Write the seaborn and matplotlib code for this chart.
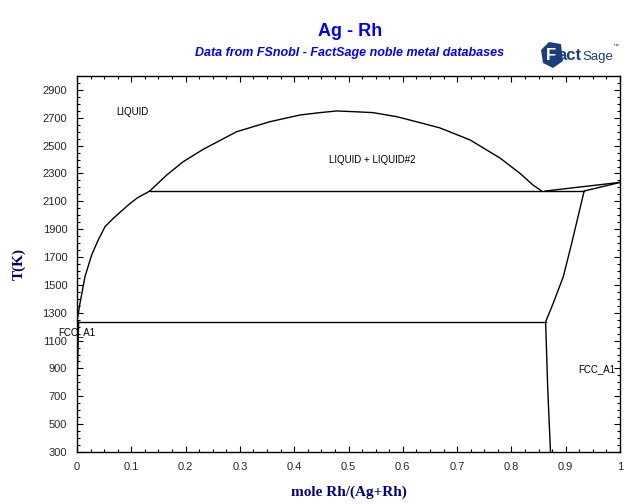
import numpy as np
import pandas as pd
import matplotlib
matplotlib.use("Agg")
import matplotlib.pyplot as plt
import seaborn as sns
from matplotlib.patches import Polygon
from matplotlib.ticker import MultipleLocator, FixedLocator

# ---------------- data ----------------
# Ag-side liquidus (x = mole Rh/(Ag+Rh), T in K)
liq_ag_x = [0.000, 0.0055, 0.0147, 0.027, 0.039, 0.0516, 0.0669, 0.0945, 0.110, 0.134]
liq_ag_T = [1234, 1368, 1559, 1715, 1822, 1918, 1978, 2074, 2122, 2174]

# Liquid miscibility gap dome
gap_x = [0.134, 0.1652, 0.1958, 0.2326, 0.2941, 0.3554, 0.4107, 0.4475, 0.4783,
         0.5083, 0.5451, 0.5888, 0.6317, 0.6685, 0.7238, 0.779, 0.8158, 0.8398, 0.8558]
gap_T = [2174, 2289, 2385, 2474, 2600, 2672, 2720, 2737, 2749,
         2744, 2737, 2708, 2665, 2627, 2541, 2411, 2301, 2217, 2174]

# Monotectic and peritectic horizontal lines
mono_x = [0.134, 0.934]
mono_T = [2174, 2174]
peri_x = [0.000, 0.863]
peri_T = [1234, 1234]

# Rh-side liquidus and solidus above the monotectic
liq_rh_x = [0.862, 1.000]
liq_rh_T = [2174, 2236]
sol_rh_top_x = [0.934, 1.000]
sol_rh_top_T = [2174, 2236]

# Rh-side solidus between peritectic and monotectic
sol_rh_x = [0.934, 0.911, 0.8956, 0.877, 0.863]
sol_rh_T = [2174, 1799, 1559, 1368, 1234]

# Rh-side solvus
solv_rh_x = [0.863, 0.867, 0.872]
solv_rh_T = [1234, 745, 300]

# Ag-side solvus
solv_ag_x = [0.003, 0.001]
solv_ag_T = [1234, 900]

curves = {
    "liq_ag": (liq_ag_x, liq_ag_T),
    "gap": (gap_x, gap_T),
    "mono": (mono_x, mono_T),
    "peri": (peri_x, peri_T),
    "liq_rh": (liq_rh_x, liq_rh_T),
    "sol_rh_top": (sol_rh_top_x, sol_rh_top_T),
    "sol_rh": (sol_rh_x, sol_rh_T),
    "solv_rh": (solv_rh_x, solv_rh_T),
    "solv_ag": (solv_ag_x, solv_ag_T),
}

x_ticks = [0, 0.1, 0.2, 0.3, 0.4, 0.5, 0.6, 0.7, 0.8, 0.9, 1]
x_tick_labels = ["0", "0.1", "0.2", "0.3", "0.4", "0.5", "0.6", "0.7", "0.8", "0.9", "1"]
y_ticks = [300, 500, 700, 900, 1100, 1300, 1500, 1700, 1900, 2100, 2300, 2500, 2700, 2900]

# phase labels: (text, x, T, ha)
phase_labels = [
    ("LIQUID", 0.072, 2741, "left"),
    ("LIQUID + LIQUID#2", 0.543, 2397, "center"),
    ("FCC_A1", 0.0, 1162, "center"),
    ("FCC_A1", 0.958, 896, "center"),
]

rows = []
for name, (xs, ts) in curves.items():
    for i, (xv, tv) in enumerate(zip(xs, ts)):
        rows.append({"curve": name, "order": i, "x": xv, "T": tv})
df = pd.DataFrame(rows)

# ---------------- plotting ----------------
sns.set_style("white")
plt.rcParams["font.family"] = ["Liberation Sans", "DejaVu Sans"]

fig = plt.figure(figsize=(6.4, 5.04), dpi=100)
ax = fig.add_axes([77 / 640, 1 - 452 / 504, (620 - 77) / 640, (452 - 76) / 504])

sns.lineplot(data=df, x="x", y="T", units="curve", estimator=None, sort=False,
             color="black", linewidth=1.0, ax=ax, legend=False)

ax.set_xlim(0, 1)
ax.set_ylim(300, 3000)
ax.xaxis.set_major_locator(FixedLocator(x_ticks))
ax.set_xticklabels(x_tick_labels)
ax.xaxis.set_minor_locator(MultipleLocator(0.025))
ax.yaxis.set_major_locator(FixedLocator(y_ticks))
ax.set_yticklabels([str(v) for v in y_ticks])
ax.yaxis.set_minor_locator(MultipleLocator(50))

ax.tick_params(which="both", direction="in", top=True, right=True,
               bottom=True, left=True, color="black", width=0.8)
ax.tick_params(which="major", length=4.0, labelsize=8, pad=7)
ax.tick_params(which="minor", length=2.3)
ax.tick_params(axis="x", which="major", pad=7)

for s in ax.spines.values():
    s.set_color("black")
    s.set_linewidth(1.0)

ax.set_xlabel("mole Rh/(Ag+Rh)", family=["Liberation Serif"], fontweight="bold",
              fontsize=11, color="#000080")
ax.set_ylabel("T(K)", family=["Liberation Serif"], fontweight="bold",
              fontsize=11, color="#000080")
ax.yaxis.set_label_coords(-0.094, 0.5)
ax.xaxis.set_label_coords(0.5, -0.088)

for txt, xv, tv, ha in phase_labels:
    ax.text(xv, tv, txt, fontsize=7, ha=ha, va="center", color="black")

# titles
fig.text(350 / 640, 1 - 32 / 504, "Ag - Rh", ha="center", va="center",
         fontsize=13, fontweight="bold", color="#0000FF")
fig.text(350 / 640, 1 - 53 / 504, "Data from FSnobl - FactSage noble metal databases",
         ha="center", va="center", fontsize=9, fontweight="bold", style="italic",
         color="#0000FF")

# FactSage logo approximation
logo_col = "#1b3f7a"
hexpts = [(541, 50), (549, 42), (561, 44), (563, 61), (553, 68), (543, 63)]
poly = Polygon([(px / 640, 1 - py / 504) for px, py in hexpts], closed=True,
               transform=fig.transFigure, facecolor=logo_col, edgecolor="none",
               zorder=0)
fig.patches.append(poly)
fig.text(546 / 640, 1 - 55 / 504, "F", ha="left", va="center", fontsize=12,
         fontweight="bold", color="white", zorder=5)
fig.text(557 / 640, 1 - 56 / 504, "act", ha="left", va="center", fontsize=12,
         fontweight="bold", color=logo_col, zorder=5)
fig.text(582 / 640, 1 - 57 / 504, "Sage", ha="left", va="center", fontsize=9.5,
         color=logo_col, zorder=5)
fig.text(612 / 640, 1 - 46 / 504, "\u2122", ha="left", va="center", fontsize=4.5,
         color=logo_col)

fig.savefig("out.png", dpi=100, facecolor="white")
